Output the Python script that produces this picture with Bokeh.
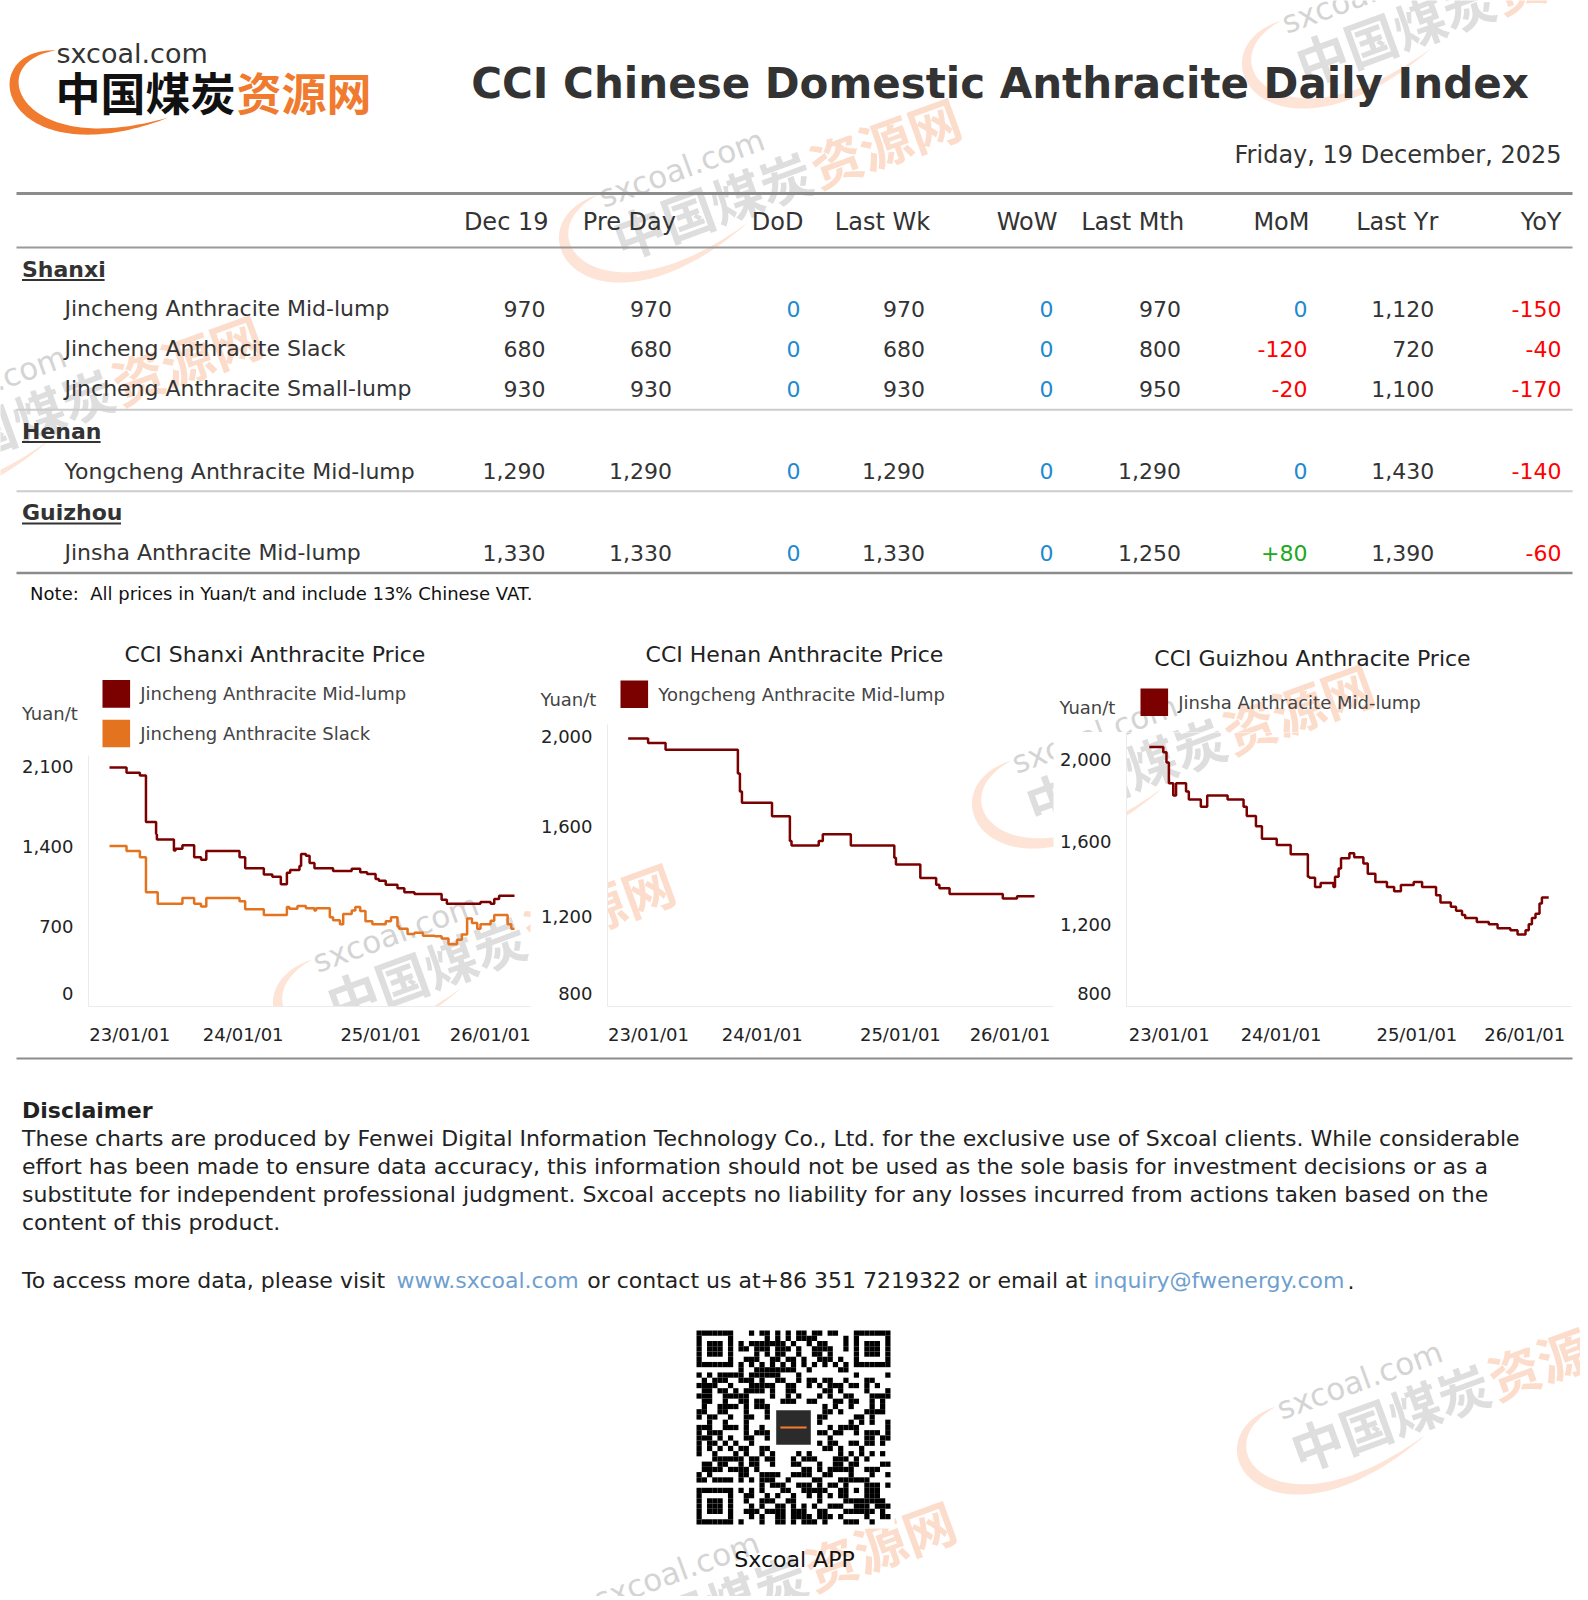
import hashlib
import numpy as np
from bokeh.plotting import figure
from bokeh.models import Range1d, ColumnDataSource, FixedTicker, NumeralTickFormatter
from bokeh.layouts import column, row
from bokeh.embed import file_html
from bokeh.resources import INLINE
from bokeh.core.properties import value

FONT = "DejaVu Sans"
CJK = "Noto Sans CJK SC"

# ---------------- data ----------------
report_title = "CCI Chinese Domestic Anthracite Daily Index"
report_date = "Friday, 19 December, 2025"
col_headers = ["Dec 19", "Pre Day", "DoD", "Last Wk", "WoW", "Last Mth", "MoM", "Last Yr", "YoY"]
regions = ["Shanxi", "Henan", "Guizhou"]
products = ["Jincheng Anthracite Mid-lump", "Jincheng Anthracite Slack",
            "Jincheng Anthracite Small-lump", "Yongcheng Anthracite Mid-lump",
            "Jinsha Anthracite Mid-lump"]
product_region = [0, 0, 0, 1, 2]
price_today = [970, 680, 930, 1290, 1330]
price_pre_day = [970, 680, 930, 1290, 1330]
price_last_wk = [970, 680, 930, 1290, 1330]
price_last_mth = [970, 800, 950, 1290, 1250]
price_last_yr = [1120, 720, 1100, 1430, 1390]
note_text = "Note:\u00a0 All prices in Yuan/t and include 13% Chinese VAT."

tick_pos = [5, 33, 67, 94]
tick_labels = ["23/01/01", "24/01/01", "25/01/01", "26/01/01"]

# Shanxi chart (t = position along the period axis, 0..100)
sx_mid_t = [0, 4.2, 7.5, 9.0, 11.5, 11.7, 15.9, 16.3, 18.0, 20.9, 22.6, 23.9, 32.1, 33.5,
            38.1, 40.2, 42.3, 43.8, 44.6, 46.9, 47.3, 48.5, 49.4, 50.6, 55.2, 59.8, 61.9,
            63.6, 65.7, 66.5, 68.2, 71.1, 72.8, 75.3, 82.0, 83.3, 91.6, 94.1, 95.0, 96.2, 100]
sx_mid_v = [2090, 2045, 2020, 1615, 1510, 1460, 1365, 1380, 1410, 1305, 1285, 1360, 1305, 1210,
            1155, 1135, 1070, 1170, 1195, 1230, 1335, 1320, 1255, 1210, 1185, 1205, 1175,
            1160, 1115, 1100, 1065, 1035, 1000, 985, 935, 900, 915, 900, 940, 970, 970]
sx_slack_t = [0, 4.2, 7.5, 9.0, 11.9, 18.0, 20.9, 22.6, 23.9, 32.1, 33.5, 38.1, 43.8, 44.4,
              46.4, 48.5, 50.6, 51.0, 54.4, 55.2, 56.9, 57.7, 59.8, 60.7, 61.9, 63.2, 64.9,
              68.2, 69.5, 71.1, 71.5, 73.6, 75.3, 77.4, 80.3, 82.0, 83.7, 85.8, 87.0, 88.3,
              89.5, 90.8, 91.6, 94.1, 95.0, 98.3, 99.2, 100]
sx_slack_v = [1405, 1360, 1305, 1000, 900, 950, 900, 875, 950, 920, 850, 800, 870, 855,
              880, 860, 840, 860, 780, 755, 720, 810, 840, 870, 835, 745, 720,
              745, 780, 700, 680, 635, 645, 620, 615, 595, 545, 585, 630, 770,
              730, 680, 720, 750, 800, 720, 680, 680]
# Henan chart
hn_t = [0, 4.9, 9.2, 27.0, 27.5, 28.0, 35.4, 39.8, 40.2, 46.9, 47.9, 54.8, 65.5, 65.9,
        71.9, 75.8, 76.6, 79.1, 92.2, 95.7, 100]
hn_v = [1990, 1970, 1940, 1835, 1755, 1705, 1645, 1535, 1515, 1535, 1565, 1515, 1460, 1430,
        1370, 1340, 1325, 1300, 1280, 1290, 1290]
# Guizhou chart
gz_t = [0, 3.5, 4.3, 4.9, 6.0, 6.7, 9.2, 9.9, 12.9, 14.5, 19.6, 23.6, 24.4, 26.7, 28.2,
        31.9, 35.4, 39.7, 40.1, 41.5, 42.9, 46.1, 46.5, 47.4, 48.0, 50.1, 51.3, 53.6, 54.7,
        56.6, 59.5, 61.3, 63.0, 66.2, 68.3, 71.8, 72.9, 75.5, 76.8, 78.3, 79.1, 82.0, 85.0,
        87.2, 90.4, 92.2, 94.2, 95.0, 95.8, 96.7, 97.7, 98.3, 100]
gz_v = [2060, 2035, 1985, 1885, 1825, 1885, 1845, 1805, 1770, 1825, 1805, 1770, 1725, 1675, 1615,
        1585, 1540, 1430, 1425, 1380, 1400, 1380, 1430, 1470, 1520, 1545, 1525, 1495, 1445,
        1405, 1380, 1360, 1390, 1405, 1380, 1340, 1305, 1285, 1265, 1245, 1230, 1210, 1200,
        1180, 1170, 1150, 1170, 1200, 1230, 1250, 1300, 1330, 1330]

disclaimer_title = "Disclaimer"
disclaimer_lines = [
    "These charts are produced by Fenwei Digital Information Technology Co., Ltd. for the exclusive use of Sxcoal clients. While considerable",
    "effort has been made to ensure data accuracy, this information should not be used as the sole basis for investment decisions or as a",
    "substitute for independent professional judgment. Sxcoal accepts no liability for any losses incurred from actions taken based on the",
    "content of this product.",
]
contact_parts = ["To access more data, please visit", "www.sxcoal.com",
                 "or contact us at+86 351 7219322 or email at", "inquiry@fwenergy.com", "."]

DARK_RED = "#7b0000"
ORANGE = "#e3731f"
LOGO_ORANGE = "#f07a2e"
TXT = "#333333"

# ---------------- logo shape (swoosh) ----------------
bt = np.linspace(0, 1, 90)
P = np.array([[55.0, 50.0], [-25.0, 55.0], [10.0, 170.0], [168.0, 117.0]])
B = (((1 - bt) ** 3)[:, None] * P[0] + (3 * (1 - bt) ** 2 * bt)[:, None] * P[1]
     + (3 * (1 - bt) * bt ** 2)[:, None] * P[2] + (bt ** 3)[:, None] * P[3])
D = ((3 * (1 - bt) ** 2)[:, None] * (P[1] - P[0]) + (6 * (1 - bt) * bt)[:, None] * (P[2] - P[1])
     + (3 * bt ** 2)[:, None] * (P[3] - P[2]))
Nrm = np.stack([-D[:, 1], D[:, 0]], axis=1)
Nrm /= np.linalg.norm(Nrm, axis=1)[:, None]
wdt = 10.0 * np.sin(np.pi * bt) ** 0.8
up = B + Nrm * (wdt / 2)[:, None]
lo = B - Nrm * (wdt / 2)[:, None]
SW_X = np.concatenate([up[:, 0], lo[::-1, 0]])
SW_Y = np.concatenate([up[:, 1], lo[::-1, 1]])
LOGO_REF = (77.5, 91.0)  # centre of the first Chinese character of the logo

# watermark (rotated, faded copies of the logo), given by the centre of "中"
WM_ANG = np.deg2rad(20)
WM_S = 1.16
wm_centers = [(638, 230), (1321, 56), (-60, 447), (352, 995), (1051, 796), (1316, 1442), (633, 1633)]
# text, x, y, size, colour, style, font, width in em
wm_items = [("sxcoal.com", 56, 53, 27, "#d4d4d4", "normal", FONT, 5.62),
            ("中国煤炭", 55, 91, 45, "#dedede", "bold", CJK, 4.0),
            ("资源网", 236, 91, 45, "#fcdccb", "bold", CJK, 3.0)]


def wm_place(cx, cy, x, y):
    dx = (np.asarray(x) - LOGO_REF[0]) * WM_S
    dy = (np.asarray(y) - LOGO_REF[1]) * WM_S
    c, s = np.cos(WM_ANG), np.sin(WM_ANG)
    return cx + dx * c + dy * s, cy - dx * s + dy * c


def add_watermarks(p, to_data, bounds):
    """Draw the parts of every watermark that fall (at least partly) within bounds."""
    bx0, bx1, by0, by1 = bounds
    c, s = np.cos(WM_ANG), np.sin(WM_ANG)
    for cx, cy in wm_centers:
        sx, sy = wm_place(cx, cy, SW_X, SW_Y)
        if not (sx.max() < bx0 or sx.min() > bx1 or sy.max() < by0 or sy.min() > by1):
            dx_, dy_ = to_data(sx, sy)
            p.patch(dx_, dy_, fill_color="#fde4d6", line_color=None)
        for s_, x_, y_, size, col, style, font, em in wm_items:
            fs = size * WM_S
            px, py = wm_place(cx, cy, x_, y_)
            L, H = em * fs, 0.6 * fs
            xs = [px + k * L * c + j * H * s for k in (0, 1) for j in (-1, 1)]
            ys = [py - k * L * s + j * H * c for k in (0, 1) for j in (-1, 1)]
            if max(xs) < bx0 or min(xs) > bx1 or max(ys) < by0 or min(ys) > by1:
                continue
            ddx, ddy = to_data(px, py)
            p.text(x=[float(ddx)], y=[float(ddy)], text=[s_], angle=WM_ANG,
                   text_font=value(font), text_font_size=f"{fs:.0f}px",
                   text_color=col, text_align="left", text_baseline="middle",
                   text_font_style=style)


def identity(x, y):
    return x, y


def blank(x0, x1, y0, y1, watermark=True):
    p = figure(width=int(x1 - x0), height=int(y1 - y0),
               x_range=Range1d(x0, x1), y_range=Range1d(y1, y0),
               x_axis_location=None, y_axis_location=None,
               output_backend="svg", toolbar_location=None, tools="", min_border=0)
    p.frame_align = False
    p.grid.visible = False
    p.outline_line_color = None
    p.background_fill_color = "white"
    p.border_fill_color = "white"
    if watermark:
        add_watermarks(p, identity, (x0, x1, y0, y1))
    return p


def txt(p, x, y, s, size, color=TXT, align="left", bold=False, font=FONT):
    p.text(x=[x], y=[y], text=[s], text_font=value(font), text_font_size=f"{size}px",
           text_color=color, text_align=align, text_baseline="middle",
           text_font_style="bold" if bold else "normal")


def fmt(v):
    return f"{v:,}"


def fmt_chg(v):
    if v > 0:
        return f"+{v:,}", "#20a820"
    if v < 0:
        return f"{v:,}", "#ff0000"
    return "0", "#1f8ad0"


# ---------------- top section ----------------
top = blank(0, 1580, 0, 612)
top.patch(SW_X, SW_Y, fill_color=LOGO_ORANGE, line_color=None)
txt(top, 56, 53, "sxcoal.com", 27, "#333333")
txt(top, 55, 91, "中国煤炭", 45, "#111111", bold=True, font=CJK)
txt(top, 236, 91, "资源网", 45, LOGO_ORANGE, bold=True, font=CJK)

txt(top, 999.5, 83, report_title, 42, TXT, align="center", bold=True)
txt(top, 1561, 154, report_date, 24, TXT, align="right")

top.segment(x0=[16], y0=[193], x1=[1572], y1=[193], line_width=3, line_color="#8c8c8c")
top.segment(x0=[16], y0=[247], x1=[1572], y1=[247], line_width=2, line_color="#9a9a9a")

header_right = [548, 675.5, 803, 929.6, 1057, 1183.7, 1309, 1437.8, 1561]
value_right = [545, 671.4, 800, 924.5, 1053, 1180.6, 1307, 1433.7, 1561]
top.text(x=header_right, y=[221.5] * len(col_headers), text=col_headers,
         text_font=value(FONT), text_font_size="24px", text_color=TXT,
         text_align="right", text_baseline="middle")

region_y = [268.5, 430.5, 512]
region_ul = [82.6, 78.6, 99.0]
product_y = [308, 348, 388, 470.5, 552]
sep_y = [409.2, 490.8]

for i, r in enumerate(regions):
    txt(top, 21.5, region_y[i], r, 22, TXT, bold=True)
    top.segment(x0=[21.5], y0=[region_y[i] + 11], x1=[21.5 + region_ul[i]], y1=[region_y[i] + 11],
                line_width=2, line_color=TXT)

cell_x, cell_y, cell_t, cell_c = [], [], [], []
for i, name in enumerate(products):
    txt(top, 64, product_y[i], name, 22, TXT)
    vals = [price_today[i], price_pre_day[i], price_today[i] - price_pre_day[i],
            price_last_wk[i], price_today[i] - price_last_wk[i],
            price_last_mth[i], price_today[i] - price_last_mth[i],
            price_last_yr[i], price_today[i] - price_last_yr[i]]
    for j, v in enumerate(vals):
        if j in (2, 4, 6, 8):
            s, c = fmt_chg(v)
        else:
            s, c = fmt(v), TXT
        cell_x.append(value_right[j]); cell_y.append(product_y[i]); cell_t.append(s); cell_c.append(c)
top.text(x="x", y="y", text="t", text_color="c",
         source=ColumnDataSource(dict(x=cell_x, y=cell_y, t=cell_t, c=cell_c)),
         text_font=value(FONT), text_font_size="22px", text_align="right", text_baseline="middle")

top.segment(x0=[16, 16], y0=sep_y, x1=[1572, 1572], y1=sep_y, line_width=2, line_color="#cccccc")
top.segment(x0=[16], y0=[572.4], x1=[1572], y1=[572.4], line_width=2.5, line_color="#8c8c8c")
txt(top, 29.6, 593, note_text, 18, "#111111")


# ---------------- charts ----------------
def chart_head(x0, x1, y0, y1, title, tx, ty, items, sq_x, sq_y0, yl_x, yl_y):
    h = blank(x0, x1, y0, y1)
    txt(h, tx, ty, title, 22, "#222222", align="center")
    for k, (lab, col) in enumerate(items):
        yy = sq_y0 + k * 39.6
        h.quad(left=[sq_x], right=[sq_x + 27.6], top=[yy], bottom=[yy + 27.6],
               fill_color=col, line_color=None)
        txt(h, sq_x + 37.8, yy + 13.8, lab, 18, "#444444")
    txt(h, yl_x, yl_y, "Yuan/t", 18, "#444444")
    return h


def chart_plot(x0, x1, y0, y1, fl, fr, fb, xr, yr, yticks, series):
    p = figure(width=x1 - x0, height=y1 - y0, x_range=Range1d(*xr), y_range=Range1d(*yr),
               output_backend="svg", toolbar_location=None, tools="",
               min_border_left=fl - x0, min_border_right=x1 - fr,
               min_border_top=0, min_border_bottom=y1 - fb)
    p.frame_align = False
    p.grid.visible = False
    p.outline_line_color = None
    for ax in (p.xaxis[0], p.yaxis[0]):
        ax.axis_line_color = "#ebebeb"
        ax.axis_line_width = 1
        ax.major_tick_line_color = None
        ax.minor_tick_line_color = None
        ax.major_tick_out = 0
        ax.major_tick_in = 0
        ax.minor_tick_out = 0
        ax.minor_tick_in = 0
        ax.major_label_text_font = FONT
        ax.major_label_text_font_size = "18px"
        ax.major_label_text_color = "#222222"
    p.yaxis[0].ticker = FixedTicker(ticks=yticks)
    p.yaxis[0].formatter = NumeralTickFormatter(format="0,0")
    # lowest label sits a little above the axis line, as in the original
    p.yaxis[0].major_label_overrides = {yticks[0]: fmt(yticks[0]) + "\n "}
    p.yaxis[0].major_label_standoff = 15
    p.xaxis[0].ticker = FixedTicker(ticks=tick_pos)
    p.xaxis[0].major_label_overrides = {t: l for t, l in zip(tick_pos, tick_labels)}
    p.xaxis[0].major_label_standoff = 17

    def to_data(sx, sy):
        dx = xr[0] + (np.asarray(sx) - fl) * (xr[1] - xr[0]) / (fr - fl)
        dy = yr[0] + (fb - np.asarray(sy)) * (yr[1] - yr[0]) / (fb - y0)
        return dx, dy

    add_watermarks(p, to_data, (fl, fr, y0, fb))
    for t, v, col in series:
        p.step(x=t, y=v, mode="after", line_width=2.5, line_color=col)
    return p


h1 = chart_head(0, 536, 612, 755, "CCI Shanxi Anthracite Price", 274.5, 654,
                [(products[0], DARK_RED), (products[1], ORANGE)], 102, 679.6, 21.4, 713)
p1 = chart_plot(0, 536, 755, 1050, 88, 530, 1006, (-5.19, 103.95), (0, 2196),
                [0, 700, 1400, 2100],
                [(sx_slack_t, sx_slack_v, ORANGE), (sx_mid_t, sx_mid_v, DARK_RED)])

h2 = chart_head(536, 1056, 612, 724, "CCI Henan Anthracite Price", 794, 654,
                [(products[3], DARK_RED)], 620, 680, 540, 699)
p2 = chart_plot(536, 1056, 724, 1050, 607, 1053, 1006, (-5.09, 104.68), (800, 2052),
                [800, 1200, 1600, 2000], [(hn_t, hn_v, DARK_RED)])

h3 = chart_head(1056, 1580, 612, 732, "CCI Guizhou Anthracite Price", 1312, 658,
                [(products[4], DARK_RED)], 1140, 688, 1059, 707)
p3 = chart_plot(1056, 1580, 732, 1050, 1125, 1571, 1006, (-5.71, 105.71), (800, 2131),
                [800, 1200, 1600, 2000], [(gz_t, gz_v, DARK_RED)])

# ---------------- bottom section ----------------
bot = blank(0, 1580, 1050, 1596)
bot.segment(x0=[16], y0=[1058], x1=[1572], y1=[1058], line_width=2, line_color="#8c8c8c")
txt(bot, 21.5, 1110, disclaimer_title, 22, "#222222", bold=True)
for i, line in enumerate(disclaimer_lines):
    txt(bot, 21.5, 1138 + i * 27.9, line, 22, "#222222")
contact_x = [21.5, 395.9, 586.7, 1092.9, 1347]
contact_c = ["#222222", "#6f9fcf", "#222222", "#6f9fcf", "#222222"]
for s, x, c in zip(contact_parts, contact_x, contact_c):
    txt(bot, x, 1280, s, 22, c)

# QR code picture (deterministic module pattern)
qr_n = 37
bits = []
hsh = b"https://www.sxcoal.com/app"
while len(bits) < qr_n * qr_n:
    hsh = hashlib.sha256(hsh).digest()
    for byte in hsh:
        for k in range(8):
            bits.append((byte >> k) & 1)
grid = np.array(bits[:qr_n * qr_n]).reshape(qr_n, qr_n)


def finder(r0, c0):
    for r in range(-1, 8):
        for c in range(-1, 8):
            rr_, cc_ = r0 + r, c0 + c
            if 0 <= rr_ < qr_n and 0 <= cc_ < qr_n:
                on = (0 <= r <= 6 and 0 <= c <= 6 and
                      (r in (0, 6) or c in (0, 6) or (2 <= r <= 4 and 2 <= c <= 4)))
                grid[rr_, cc_] = 1 if on else 0


finder(0, 0)
finder(0, qr_n - 7)
finder(qr_n - 7, 0)
for k in range(8, qr_n - 8):
    grid[6, k] = 1 - k % 2
    grid[k, 6] = 1 - k % 2
for r in range(-2, 3):
    for c in range(-2, 3):
        grid[30 + r, 30 + c] = 1 if (max(abs(r), abs(c)) != 1) else 0
grid[14:23, 14:23] = 0
qr_left, qr_top, qr_size = 696.0, 1330.0, 194.0
m = qr_size / qr_n
rr, cc = np.nonzero(grid)
bot.quad(left=[qr_left - 4], right=[qr_left + qr_size + 4], top=[qr_top - 4],
         bottom=[qr_top + qr_size + 4], fill_color="white", line_color=None)
bot.quad(left=qr_left + cc * m, right=qr_left + (cc + 1) * m,
         top=qr_top + rr * m, bottom=qr_top + (rr + 1) * m,
         fill_color="#000000", line_color=None)
bot.quad(left=[qr_left + 15.2 * m], right=[qr_left + 21.8 * m],
         top=[qr_top + 15.2 * m], bottom=[qr_top + 21.8 * m],
         fill_color="#2b2b2b", line_color=None)
bot.quad(left=[qr_left + 16.0 * m], right=[qr_left + 21.0 * m],
         top=[qr_top + 18.3 * m], bottom=[qr_top + 18.7 * m],
         fill_color=LOGO_ORANGE, line_color=None)
txt(bot, 794, 1559, "Sxcoal APP", 22, "#111111", align="center")

layout = column(top, row(column(h1, p1), column(h2, p2), column(h3, p3)), bot)
open("out.html", "w").write(file_html(layout, INLINE))
